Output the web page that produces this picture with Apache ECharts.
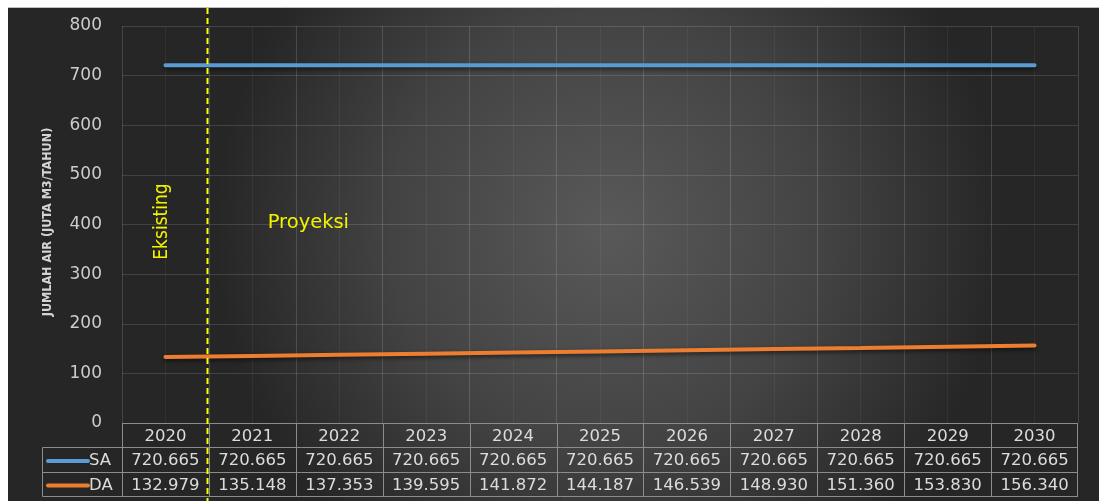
<!DOCTYPE html>
<html><head><meta charset="utf-8">
<script src="https://cdn.jsdelivr.net/npm/echarts@6/dist/echarts.min.js"></script>
<style>html,body{margin:0;padding:0;background:#fff;}#c{width:1099px;height:501px;}</style>
</head><body><div id="c"></div>
<script>
var categories = ['2020','2021','2022','2023','2024','2025','2026','2027','2028','2029','2030'];
var saValues = [720.665,720.665,720.665,720.665,720.665,720.665,720.665,720.665,720.665,720.665,720.665];
var daValues = [132.979,135.148,137.353,139.595,141.872,144.187,146.539,148.930,151.360,153.830,156.340];
var seriesNames = ['SA','DA'];
var seriesColors = ['#5b9bd5','#ed7d31'];
var yTicks = {min:0, max:800, interval:100};
var yTitle = 'JUMLAH AIR (JUTA M3/TAHUN)';
var dividerAfter = 0; // boundary between Eksisting and Proyeksi after this category index

var chart = echarts.init(document.getElementById('c'), null, {renderer:'canvas'});
var GL = 122, GR = 1099-1078, GT = 26, GB = 501-423;
var txtColor = '#dcdcdc';
var tableLine = '#8c8c8c';

var option = {
  backgroundColor: 'transparent',
  animation: false,
  grid: {left: GL, right: GR, top: GT, bottom: GB},
  xAxis: [
    {type:'category', data: categories, boundaryGap:true,
     axisLine:{show:false}, axisTick:{show:false}, axisLabel:{show:false},
     splitLine:{show:true, lineStyle:{color:'rgba(255,255,255,0.10)', width:1}}},
    {type:'value', min:0, max:22, interval:1, show:true,
     axisLine:{show:false}, axisTick:{show:false}, axisLabel:{show:false},
     splitLine:{show:true, lineStyle:{color:'rgba(255,255,255,0.05)', width:1}}}
  ],
  yAxis: {type:'value', min:yTicks.min, max:yTicks.max, interval:yTicks.interval,
    axisLine:{show:false}, axisTick:{show:false},
    axisLabel:{color:'#cccccc', fontSize:17, fontFamily:'DejaVu Sans', margin:20},
    splitLine:{lineStyle:{color:'rgba(255,255,255,0.13)', width:1}}},
  series: [
    {name: seriesNames[0], type:'line', data: saValues, showSymbol:false, xAxisIndex:0,
     lineStyle:{color:seriesColors[0], width:4, cap:'round', shadowColor:'rgba(0,0,0,0.6)', shadowBlur:4, shadowOffsetY:2}},
    {name: seriesNames[1], type:'line', data: daValues, showSymbol:false, xAxisIndex:0,
     lineStyle:{color:seriesColors[1], width:4, cap:'round', shadowColor:'rgba(0,0,0,0.6)', shadowBlur:4, shadowOffsetY:2}}
  ]
};
chart.setOption(option);

function txt(x, y, s, extra) {
  var st = {text:s, fill:txtColor, fontSize:16.5, fontFamily:'DejaVu Sans', align:'center', verticalAlign:'middle'};
  for (var k in (extra||{})) st[k] = extra[k];
  return {type:'text', x:x, y:y, style:st};
}

var g = [];
g.push({type:'rect', z:-10, silent:true, shape:{x:8, y:8, width:1091, height:493},
  style:{fill:{type:'radial', x:0.55, y:0.45, r:0.8, colorStops:[
    {offset:0, color:'#595959'},{offset:0.55, color:'#434343'},{offset:1, color:'#262626'}]}}});
g.push({type:'line', z:-9, silent:true, shape:{x1:8,y1:7.5,x2:1099,y2:7.5}, style:{stroke:'#bdbdbd', lineWidth:1}});

var half = (chart.convertToPixel({xAxisIndex:0}, categories[1]) - chart.convertToPixel({xAxisIndex:0}, categories[0]))/2;
var rowY = [423.5, 447.5, 472.5, 496.5];
var tLeft = 42.5;
var xL = GL, xR = 1099-GR;
g.push({type:'line', shape:{x1:xL,y1:rowY[0],x2:xR,y2:rowY[0]}, style:{stroke:tableLine, lineWidth:1}});
for (var r=1;r<4;r++) g.push({type:'line', shape:{x1:tLeft,y1:rowY[r],x2:xR,y2:rowY[r]}, style:{stroke:tableLine, lineWidth:1}});
g.push({type:'line', shape:{x1:tLeft,y1:rowY[1],x2:tLeft,y2:rowY[3]}, style:{stroke:tableLine, lineWidth:1}});
for (var i=0;i<categories.length;i++){
  var cx = chart.convertToPixel({xAxisIndex:0}, categories[i]);
  var bx = Math.round(cx - half)+0.5;
  g.push({type:'line', shape:{x1:bx,y1:rowY[0],x2:bx,y2:rowY[3]}, style:{stroke:tableLine, lineWidth:1}});
  g.push(txt(cx, (rowY[0]+rowY[1])/2+1, categories[i]));
  g.push(txt(cx, (rowY[1]+rowY[2])/2+1, saValues[i].toFixed(3)));
  g.push(txt(cx, (rowY[2]+rowY[3])/2+1, daValues[i].toFixed(3)));
}
g.push({type:'line', shape:{x1:xR-0.5,y1:rowY[0],x2:xR-0.5,y2:rowY[3]}, style:{stroke:tableLine, lineWidth:1}});
for (var s=0;s<2;s++){
  var yy = (rowY[s+1]+rowY[s+2])/2;
  g.push({type:'line', shape:{x1:48,y1:yy+1,x2:88,y2:yy+1}, style:{stroke:seriesColors[s], lineWidth:4, lineCap:'round'}});
  g.push(txt(89, yy+1, seriesNames[s], {align:'left'}));
}
g.push({type:'text', x:48, y:222, rotation:Math.PI/2, style:{text:yTitle, fill:'#d4d4d4', fontSize:12.5, fontWeight:'bold', fontFamily:'"DejaVu Sans Condensed", "DejaVu Sans"', align:'center', verticalAlign:'middle'}});
var c0 = chart.convertToPixel({xAxisIndex:0}, categories[dividerAfter]);
var dx = Math.round(c0 + half) - 1.5;
g.push({type:'line', z:50, shape:{x1:dx,y1:8,x2:dx,y2:501}, style:{stroke:'#ffff00', lineWidth:2, lineDash:[6,4]}});
var yAnno = chart.convertToPixel({yAxisIndex:0}, 400);
g.push({type:'text', x:c0-3, y:yAnno-3, rotation:Math.PI/2, style:{text:'Eksisting', fill:'#f2f200', fontSize:19, fontFamily:'DejaVu Sans Condensed', align:'center', verticalAlign:'middle'}});
var c1 = chart.convertToPixel({xAxisIndex:0}, categories[1]);
g.push({type:'text', x:c1+56, y:yAnno-2, style:{text:'Proyeksi', fill:'#f2f200', fontSize:19.5, fontFamily:'DejaVu Sans', align:'center', verticalAlign:'middle'}});

chart.setOption({graphic: g});
</script></body></html>
